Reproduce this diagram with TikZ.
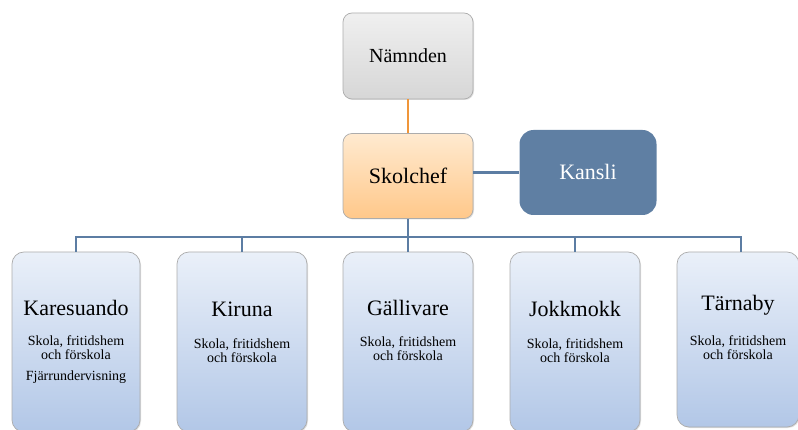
\documentclass[tikz,border=0pt]{standalone}
\usepackage{fontspec}
\setmainfont{Liberation Serif}
\newfontfamily\orgfont{Liberation Serif}
\usetikzlibrary{shadows}
\definecolor{steel}{HTML}{5F7FA3}
\definecolor{lineblue}{HTML}{5C7DA3}
\definecolor{orangeline}{HTML}{F0963A}

\begin{document}
\begin{tikzpicture}[x=1pt,y=-1pt,
    box/.style={draw=gray!65, line width=0.7pt, rounded corners=9pt,
      drop shadow={opacity=0.25, shadow xshift=1pt, shadow yshift=-1pt}},
    greybox/.style={box, top color=gray!12, bottom color=gray!32,
      minimum width=130pt, minimum height=86pt},
    chefbox/.style={box, top color={rgb,255:red,255;green,234;blue,208},
      bottom color={rgb,255:red,255;green,200;blue,138},
      minimum width=130pt, minimum height=85pt},
    unitbox/.style={box, rounded corners=12pt,
      top color={rgb,255:red,234;green,240;blue,249},
      bottom color={rgb,255:red,178;green,199;blue,231},
      minimum height=180pt},
    head/.style={font=\orgfont\fontsize{22}{26}\selectfont},
    sub/.style={font=\orgfont\fontsize{14}{14}\selectfont, align=center},
    bus/.style={draw=lineblue, line width=2.8pt}]
  \useasboundingbox (0,0) rectangle (798,430);

  % top
  \node[greybox] (namnd) at (408,56) {};
  \node[font=\orgfont\fontsize{20}{24}\selectfont] (namndT) at (408,56) {Nämnden};
  \node[chefbox] (skol) at (408,176) {};
  \node[head] (skolT) at (408,176) {Skolchef};
  \node[fill=steel, rounded corners=14pt, minimum width=137pt,
    minimum height=85pt] (kans) at (588,172.5) {};
  \node[head, text=white] (kansT) at (588,172) {Kansli};

  % units
  \node[unitbox, minimum width=128pt] (kar) at (76,342) {};
  \node[unitbox, minimum width=130pt] (kir) at (242,342) {};
  \node[unitbox, minimum width=130pt] (gal) at (408,342) {};
  \node[unitbox, minimum width=130pt] (jok) at (575,342) {};
  \node[unitbox, minimum width=122pt, minimum height=175pt] (tar) at (738,339.5) {};

  \node[head] (karT) at (76,308) {Karesuando};
  \node[head] (kirT) at (242,309) {Kiruna};
  \node[head] (galT) at (408,308) {Gällivare};
  \node[head] (jokT) at (575,309) {Jokkmokk};
  \node[head] (tarT) at (738,305) {Tärnaby};

  \node[sub] (karS) at (76,360) {Skola, fritidshem\\och förskola\\[7pt]Fjärrundervisning};
  \node[sub] (kirS) at (242,351) {Skola, fritidshem\\och förskola};
  \node[sub] (galS) at (408,349) {Skola, fritidshem\\och förskola};
  \node[sub] (jokS) at (575,351) {Skola, fritidshem\\och förskola};
  \node[sub] (tarS) at (738,348) {Skola, fritidshem\\och förskola};

  % connectors
  \coordinate (mid) at (409,237);
  \draw[draw=orangeline, line width=2.5pt] (namnd) -- (skol);
  \draw[bus, line width=2.5pt] (skol.east |- kans) -- (kans.west);
  \draw[bus] (skol.south) -- (skol.south |- mid);
  \draw[bus] (kar.north) -- (kar.north |- mid) -- ([xshift=3pt]tar.north |- mid)
    -- ([xshift=3pt]tar.north);
  \foreach \u in {kir,gal,jok}
    \draw[bus] (\u.north) -- (\u.north |- mid);
\end{tikzpicture}
\end{document}
